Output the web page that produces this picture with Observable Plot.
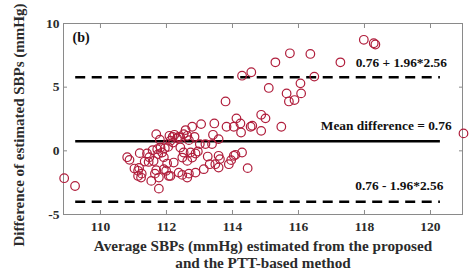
<!DOCTYPE html>
<html>
<head>
<meta charset="utf-8">
<script src="https://cdn.jsdelivr.net/npm/d3@7"></script>
<script src="https://cdn.jsdelivr.net/npm/@observablehq/plot@0.6"></script>
<style>
  html, body { margin: 0; padding: 0; background: #fff; }
  #chart { width: 471px; height: 273px; }
</style>
</head>
<body>
<div id="chart"></div>
<script>
// Average SBP (x) and difference (y) for each measurement
const avgSBP = [
  108.9, 109.23, 110.81, 110.88, 111.03, 111.17, 111.14, 111.25, 111.23, 111.19,
  111.41, 111.48, 111.34, 111.46, 111.61, 111.54, 111.77, 111.58, 111.72, 111.82,
  111.95, 112.05, 111.69, 112.09, 112.19, 111.8, 111.75, 111.87, 111.92, 112.02,
  111.92, 111.14, 111.65, 111.77, 111.69, 111.99, 112.07, 112.24, 112.37, 112.52,
  112.58, 112.78, 113.05, 113.45, 113.82, 114.04, 114.12, 114.24, 114.26, 114.55,
  113.41, 113.58, 113.38, 113.01, 112.85, 112.68, 112.63, 112.42, 112.32, 112.2,
  112.12, 112.42, 112.52, 112.73, 112.88, 112.78, 112.48, 112.63, 112.22, 112.12,
  112.37, 112.48, 112.63, 112.68, 112.88, 113.13, 113.31, 113.48, 113.58, 113.58,
  113.62, 113.89, 113.96, 114.04, 114.29, 114.46, 114.6, 114.87, 115.0, 114.87,
  115.48, 114.09, 115.1, 115.64, 116.08, 115.71, 115.88, 116.06, 113.79, 115.74,
  116.36, 115.3, 117.27, 114.57, 114.29, 116.48, 117.98, 118.28, 118.33, 121.0,
  113.18, 112.95, 113.25
];
const diffSBP = [
  -2.15, -2.76, -0.5, -0.71, -1.39, -1.34, -1.97, -1.79, -2.1, -0.18,
  -0.2, -0.5, -0.84, -0.87, -0.8, -2.36, -2.97, 0.05, 0.13, 0.26,
  0.21, 0.31, 1.31, 1.18, 1.1, 0.87, -0.26, -0.13, -0.5, -1.0,
  -1.44, -1.57, -1.79, -2.1, -1.52, -1.57, -1.97, 1.26, 1.1, 1.31,
  1.63, 1.89, 2.1, 2.15, 1.89, 1.89, 2.55, 2.15, 1.44, 1.89,
  1.26, 0.92, 0.53, 0.53, 1.1, 0.84, 1.18, 1.05, 1.0, 0.65,
  0.79, 0.26, -0.13, -0.13, -0.21, -0.53, -0.53, -0.79, -0.92, -1.97,
  -1.71, -1.89, -2.1, -1.79, -1.71, -1.44, -1.05, -1.05, -1.31, -0.39,
  -0.65, -1.05, -0.73, -0.39, -0.13, -1.36, 1.97, 2.83, 2.55, 1.57,
  1.89, -0.31, 4.94, 4.51, 4.51, 3.88, 3.99, 5.3, 3.88, 7.66,
  7.61, 6.95, 6.95, 6.17, 5.9, 5.83, 8.72, 8.45, 8.35, 1.37,
  0.53, -0.05, -0.45
];

// Agreement lines as drawn
const meanDiff = 0.76;
const limitValues = [5.77, -3.99];
const lineSpan = [109.25, 120.3];

// Axis ticks
const xTicks = [110, 112, 114, 116, 118, 120];
const yTicks = [-5, 0, 5, 10];
const xDomain = [108.88, 120.97];
const yDomain = [-5, 10];

// Annotations
const annoText = ["0.76 + 1.96*2.56", "Mean difference = 0.76", "0.76 - 1.96*2.56"];
const annoX = [120.5, 120.64, 120.39];
const annoY = [6.93, 1.94, -2.76];

const xLabel = "Average SBPs (mmHg) estimated from the proposed\nand the PTT-based method";
const yLabel = "Difference of estimated SBPs (mmHg)";
const panelLabel = "(b)";

const points = avgSBP.map((x, i) => ({x, y: diffSBP[i]}));
const limits = limitValues.map(v => ({v}));
const annos = annoText.map((t, i) => ({t, x: annoX[i], y: annoY[i]}));

const font = "Liberation Serif, Times New Roman, serif";
const frameColor = "#8a8a8a";
const textColor = "#2b2b2b";
const dotColor = "#b01e3c";

const chart = Plot.plot({
  width: 471,
  height: 273,
  marginLeft: 63,
  marginRight: 9,
  marginTop: 23,
  marginBottom: 59,
  style: {fontFamily: font, background: "#fff", overflow: "visible"},
  x: {domain: xDomain},
  y: {domain: yDomain},
  marks: [
    Plot.frame({stroke: frameColor, strokeWidth: 1}),
    // inward ticks on all four sides
    Plot.axisX(xTicks, {anchor: "bottom", tickSize: -4, text: null, stroke: frameColor, label: null}),
    Plot.axisX(xTicks, {anchor: "top", tickSize: -4, text: null, stroke: frameColor, label: null}),
    Plot.axisY(yTicks, {anchor: "left", tickSize: -4, text: null, stroke: frameColor, label: null}),
    Plot.axisY(yTicks, {anchor: "right", tickSize: -4, text: null, stroke: frameColor, label: null}),
    // tick labels
    Plot.axisX(xTicks, {anchor: "bottom", tickSize: 0, tickPadding: 7, fontSize: 13.5, fontWeight: "bold", fill: textColor, label: null, tickFormat: d => String(d)}),
    Plot.axisY(yTicks, {anchor: "left", tickSize: 0, tickPadding: 4, fontSize: 13.5, fontWeight: "bold", fill: textColor, label: null, tickFormat: d => String(d)}),
    // agreement lines
    Plot.ruleY([meanDiff], {x1: lineSpan[0], x2: lineSpan[1], stroke: "#000", strokeWidth: 2.5}),
    Plot.ruleY(limits, {y: "v", x1: lineSpan[0], x2: lineSpan[1], stroke: "#000", strokeWidth: 2.5, strokeDasharray: "10,6.5"}),
    // data points
    Plot.dot(points, {x: "x", y: "y", r: 4.3, stroke: dotColor, strokeWidth: 1.2, fill: "none"}),
    // annotations
    Plot.text(annos, {x: "x", y: "y", text: "t", textAnchor: "end", fontSize: 13.4, fontWeight: "bold", fill: "#111"}),
    Plot.text([panelLabel], {frameAnchor: "top-left", dx: 9, dy: 9, lineAnchor: "top", textAnchor: "start", fontSize: 14, fontWeight: "bold", fill: "#111"}),
    // axis titles
    Plot.text([xLabel], {frameAnchor: "bottom", dy: 24, lineAnchor: "top", lineHeight: 1.15, fontSize: 15.2, fontWeight: "bold", fill: textColor}),
    Plot.text([yLabel], {frameAnchor: "left", dx: -44, dy: 6, rotate: -90, textAnchor: "middle", fontSize: 15, fontWeight: "bold", fill: textColor})
  ]
});
document.getElementById("chart").appendChild(chart);
</script>
</body>
</html>
